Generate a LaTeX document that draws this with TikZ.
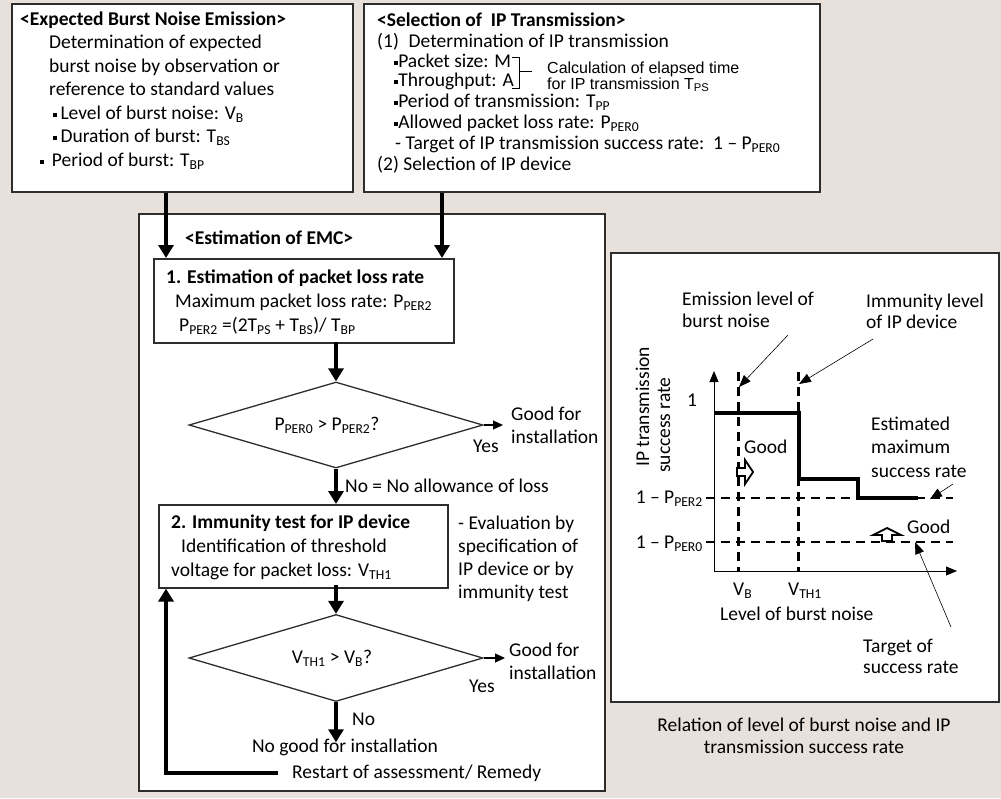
\documentclass[tikz,border=0pt]{standalone}
\usepackage{fontspec}
\setmainfont{Carlito}
\newfontfamily\arialf{Liberation Sans}
\usetikzlibrary{arrows.meta,shapes.geometric}
\definecolor{bgc}{RGB}{232,224,218}
\definecolor{edge}{RGB}{45,45,45}
\newcommand{\sq}{\rule[0.12em]{0.21em}{0.21em}}
\newcommand{\sub}[1]{\textsubscript{#1}}
\newcommand{\bodyfont}{\fontsize{19.5}{23.5}\selectfont}
\tikzset{
  box/.style={draw=edge, line width=1.6pt, fill=white, inner sep=0pt, anchor=north west},
  txt/.style={anchor=base west, inner sep=0pt},
  head/.style={txt, font=\bodyfont\bfseries},
  fat/.style={line width=4.5pt, -{Triangle[width=15pt,length=13pt]}},
  slim/.style={line width=1.1pt, -{Triangle[width=9pt,length=10pt]}},
  lead/.style={line width=0.6pt, -{Triangle[width=9pt,length=12pt]}},
  dec/.style={diamond, draw=edge, line width=1.3pt, fill=white, inner sep=0pt, aspect=3.4},
  dsh/.style={line width=2.2pt, dash pattern=on 9pt off 6pt}
}

\begin{document}
\begin{tikzpicture}[x=1pt,y=-1pt,font=\bodyfont]
\fill[bgc] (0,0) rectangle (1001,798);
\useasboundingbox (0,0) rectangle (1001,798);

% input boxes
\node[box, minimum width=341, minimum height=188] (emis) at (11,3) {};
\node[box, minimum width=456, minimum height=188] (sel) at (363,3) {};
\node[box, minimum width=466, minimum height=577] (emc) at (138,213) {};
\node[box, minimum width=388, minimum height=449] (plot) at (610,252) {};

\node[head] (emisT) at (20,25) {<Expected Burst Noise Emission>};
\foreach \t [count=\i] in {Determination of expected, burst noise by observation or, reference to standard values}
  \node[txt] (emis\i) at (49,25+23.5*\i) {\t};
\node[txt] (emis4) at (53,119) {\sq\,Level of burst noise: V\sub{B}};
\node[txt] (emis5) at (53,142.5) {\sq\,Duration of burst: T\sub{BS}};
\node[txt] (emis6) at (40,166) {\sq\ \,Period of burst: T\sub{BP}};

\node[head] (selT) at (377,26) {<Selection of\ \ IP Transmission>};
\node[txt] (sel1) at (377,47) {(1)\enspace Determination of IP transmission};
\node[txt] (sel2) at (394,67) {\sq Packet size: M};
\node[txt] (sel3) at (394,86) {\sq Throughput: A};
\node[txt] (sel4) at (394,107) {\sq Period of transmission: T\sub{PP}};
\node[txt] (sel5) at (394,128) {\sq Allowed packet loss rate: P\sub{PER0}};
\node[txt] (sel6) at (395,149) {- Target of IP transmission success rate:\ \ 1 -- P\sub{PER0}};
\node[txt] (sel7) at (377,170) {(2) Selection of IP device};
\draw[line width=1pt] (512,57) -- (519,57) -- (519,88) -- (512,88);
\draw[line width=1pt] (519,71) -- (532,71);
\node[txt,font=\arialf\fontsize{16}{16}\selectfont] (calc1) at (547,73) {Calculation of elapsed time};
\node[txt,font=\arialf\fontsize{16}{16}\selectfont] (calc2) at (547,89) {for IP transmission T\sub{PS}};

% estimation of EMC
\node[head] (emcT) at (185,244) {<Estimation of EMC>};
\node[box, minimum width=300, minimum height=84] (est1) at (153,258) {};
\node[head] (est1a) at (166,283) {1. Estimation of packet loss rate};
\node[txt] (est1b) at (175,307) {Maximum packet loss rate: P\sub{PER2}};
\node[txt] (est1c) at (179,331) {P\sub{PER2} =(2T\sub{PS} + T\sub{BS})/ T\sub{BP}};

\node[dec, minimum width=294, minimum height=86] (dec1) at (336,425) {P\sub{PER0} > P\sub{PER2}?\hspace*{18pt}};
\node[txt] (good1a) at (511,420) {Good for};
\node[txt] (good1b) at (511,443) {installation};
\node[txt] (yes1) at (473,452) {Yes};
\node[txt] (no1) at (345,492) {No = No allowance of loss};

\node[box, minimum width=289, minimum height=83] (est2) at (158,504) {};
\node[head] (est2a) at (171,528) {2. Immunity test for IP device};
\node[txt] (est2b) at (181,552) {Identification of threshold};
\node[txt] (est2c) at (171,576) {voltage for packet loss: V\sub{TH1}};
\foreach \t [count=\i] in {- Evaluation by, specification of, IP device or by, immunity test}
  \node[txt] (eval\i) at (458,529+23.3*\i-23.3) {\t};

\node[dec, minimum width=294, minimum height=87] (dec2) at (336,658) {V\sub{TH1} > V\sub{B}?\hspace*{8pt}};
\node[txt] (good2a) at (509,656) {Good for};
\node[txt] (good2b) at (509,679) {installation};
\node[txt] (yes2) at (469,692) {Yes};
\node[txt] (no2) at (352,725) {No};
\node[anchor=base, inner sep=0pt] (nogood) at (345,752) {No good for installation};
\node[txt] (restart) at (292,778) {Restart of assessment/ Remedy};

\coordinate (y1) at (503,425);
\coordinate (y2) at (505,658);
\coordinate (rs) at (278,773);

\draw[fat] ([xshift=155]emis.south west) coordinate (a1) -- (a1 |- est1.north);
\draw[fat] ([xshift=79]sel.south west) coordinate (a2) -- (a2 |- est1.north);
\draw[fat] ([yshift=2]dec1.north |- est1.south) -- (dec1.north);
\draw[fat] (dec1.south) -- (dec1.south |- est2.north);
\draw[fat] ([yshift=4]dec2.north |- est2.south) -- (dec2.north);
\draw[fat] (dec2.south) -- ([yshift=-4]dec2.south |- nogood.north);
\draw[slim] (dec1.east) -- (y1);
\draw[slim] (dec2.east) -- (y2);
\draw[fat] (rs) -| ([xshift=8]est2.south west);

% graph
\draw[line width=0.8pt, -{Triangle[width=9pt,length=11pt]}] (714,572) -- (714,371);
\draw[line width=0.8pt, -{Triangle[width=9pt,length=11pt]}] (714,571) -- (957,571);
\draw[dsh] (738.5,372) -- (738.5,571);
\draw[dsh] (798.5,372) -- (798.5,571);
\draw[dsh] (706,498) -- (953,498);
\draw[dsh] (706,542) -- (953,542);
\draw[line width=4.5pt] (714,413) -- (799,413) -- (799,479) -- (858,479) -- (858,498) -- (918,498);
\draw[line width=1.8pt, fill=white] (737,468) -- (745,468) -- (745,460) -- (753,472) -- (745,484) -- (745,476) -- (737,476) -- cycle;
\draw[line width=1.8pt, fill=white] (882,541) -- (882,535) -- (873,535) -- (887,528) -- (901,535) -- (892,535) -- (892,541) -- cycle;

\node[anchor=base, inner sep=0pt] (one) at (692,406) {1};
\node[anchor=base east, inner sep=0pt] (rate2) at (703,503) {1 -- P\sub{PER2}};
\node[anchor=base east, inner sep=0pt] (rate0) at (703,548) {1 -- P\sub{PER0}};
\node[txt, rotate=90] (ylab1) at (649,467) {IP transmission};
\node[txt, rotate=90] (ylab2) at (670,473) {success rate};
\node[txt] (emil1) at (682,305) {Emission level of};
\node[txt] (emil2) at (682,327) {burst noise};
\node[txt] (imml1) at (866,307) {Immunity level};
\node[txt] (imml2) at (866,328) {of IP device};
\node[txt] (estm1) at (871,430) {Estimated};
\node[txt] (estm2) at (871,453) {maximum};
\node[txt] (estm3) at (871,477) {success rate};
\node[txt] (goodA) at (744,453) {Good};
\node[txt] (goodB) at (907,533) {Good};
\node[txt] (vb) at (733,595) {V\sub{B}};
\node[txt] (vth) at (788,595) {V\sub{TH1}};
\node[txt] (xlab) at (720,620) {Level of burst noise};
\node[txt] (targ1) at (863,652) {Target of};
\node[txt] (targ2) at (863,673) {success rate};
\node[anchor=base, inner sep=0pt] (cap1) at (804,731) {Relation of level of burst noise and IP};
\node[anchor=base, inner sep=0pt] (cap2) at (804,753) {transmission success rate};

\draw[lead] (788,335) -- (739,387);
\draw[lead] (873,339) -- (799,384);
\draw[lead] (953,484) -- (930,499);
\draw[lead] (951,627) -- (915,542);
\end{tikzpicture}
\end{document}
